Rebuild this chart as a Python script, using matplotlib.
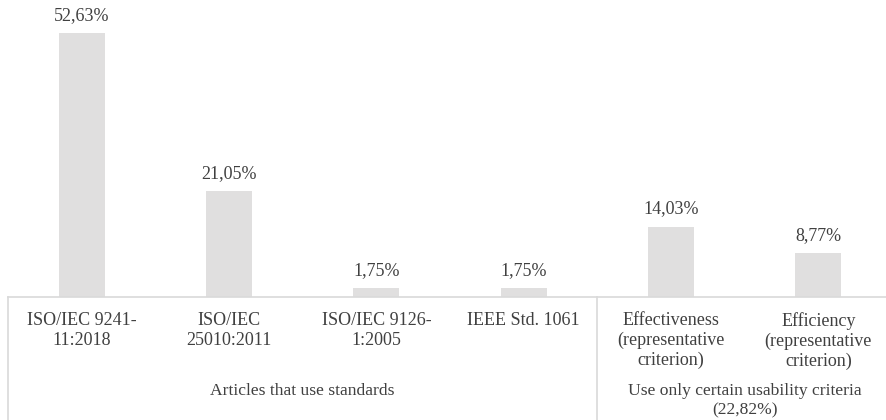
import matplotlib.pyplot as plt
import matplotlib.transforms as mtransforms

categories = ['ISO/IEC 9241-\n11:2018', 'ISO/IEC\n25010:2011', 'ISO/IEC 9126-\n1:2005',
              'IEEE Std. 1061', 'Effectiveness\n(representative\ncriterion)',
              'Efficiency\n(representative\ncriterion)']
values = [52.63, 21.05, 1.75, 1.75, 14.03, 8.77]
value_labels = ['52,63%', '21,05%', '1,75%', '1,75%', '14,03%', '8,77%']
groups = ['Articles that use standards', 'Use only certain usability criteria\n(22,82%)']
group_spans = [(-0.5, 3.5), (3.5, 5.5)]

plt.rcParams['font.family'] = ['Liberation Serif', 'DejaVu Serif']
text_color = '#404040'
line_color = '#d9d9d9'

fig = plt.figure(figsize=(8.87, 4.2), dpi=100)
ax = fig.add_axes([8 / 887, 123 / 420, 884 / 887, 297 / 420])

x = range(len(values))
ax.bar(x, values, width=0.31, color='#e0dfdf', zorder=2)
for xi, v, lab in zip(x, values, value_labels):
    ax.text(xi, v + 1.8, lab, ha='center', va='bottom', fontsize=13, color=text_color)

ax.set_xlim(-0.5, 5.5)
ax.set_ylim(0, 59.2)
ax.set_yticks([])
ax.set_xticks(list(x))
ax.set_xticklabels(categories, fontsize=13, color=text_color, linespacing=1.2)
ax.tick_params(axis='x', length=0, pad=11)
for s in ['top', 'right', 'left']:
    ax.spines[s].set_visible(False)
ax.spines['bottom'].set_color(line_color)
ax.spines['bottom'].set_linewidth(1.2)

trans = mtransforms.blended_transform_factory(ax.transData, ax.transAxes)
for xs in [-0.5, 3.5]:
    ax.plot([xs, xs], [0, -123 / 297], transform=trans, color=line_color,
            linewidth=1.2, clip_on=False)

for name, (a, b) in zip(groups, group_spans):
    ax.text((a + b) / 2, -86 / 297, name, transform=trans, ha='center', va='top',
            fontsize=12.6, color=text_color, linespacing=1.3)

fig.savefig('out.png', dpi=100)
